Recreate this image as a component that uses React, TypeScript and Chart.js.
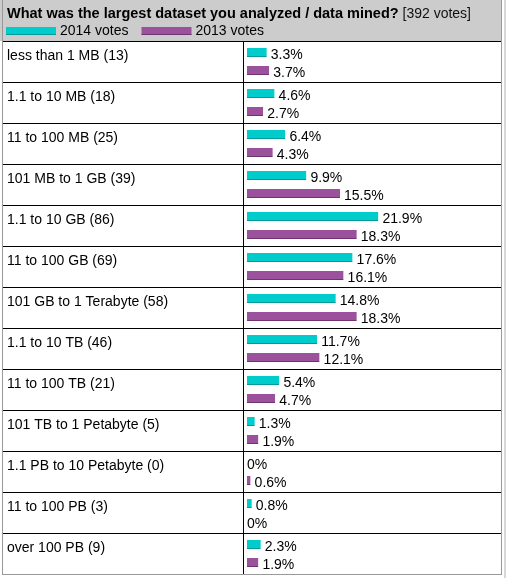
import React, { useEffect, useRef } from "react";
import { Chart, registerables } from "chart.js";

Chart.register(...registerables);

const TITLE = "What was the largest dataset you analyzed / data mined?";
const TOTAL_LABEL = "[392 votes]";
const SERIES_NAMES = ["2014 votes", "2013 votes"];
const CATEGORIES = [
  "less than 1 MB",
  "1.1 to 10 MB",
  "11 to 100 MB",
  "101 MB to 1 GB",
  "1.1 to 10 GB",
  "11 to 100 GB",
  "101 GB to 1 Terabyte",
  "1.1 to 10 TB",
  "11 to 100 TB",
  "101 TB to 1 Petabyte",
  "1.1 PB to 10 Petabyte",
  "11 to 100 PB",
  "over 100 PB",
];
const COUNTS = [13, 18, 25, 39, 86, 69, 58, 46, 21, 5, 0, 3, 9];
const VOTES_2014 = [3.3, 4.6, 6.4, 9.9, 21.9, 17.6, 14.8, 11.7, 5.4, 1.3, 0, 0.8, 2.3];
const VOTES_2013 = [3.7, 2.7, 4.3, 15.5, 18.3, 16.1, 18.3, 12.1, 4.7, 1.9, 0.6, 0, 1.9];
const COLORS = ["#00cccc", "#9c519c"];
const EDGE_COLORS = ["#009a9a", "#6f3470"];

const FONT_FAMILY = "'Liberation Sans', Arial, sans-serif";

const tablePlugin = {
  id: "tablePlugin",
  beforeDraw(chart: any) {
    const ctx = chart.ctx;
    const W = chart.width;
    const H = chart.height;
    const area = chart.chartArea;
    ctx.save();
    ctx.fillStyle = "#ffffff";
    ctx.fillRect(0, 0, W, H);
    // header background
    ctx.fillStyle = "#cccccc";
    ctx.fillRect(0, 0, 502, area.top);
    // title
    ctx.fillStyle = "#000000";
    ctx.textBaseline = "alphabetic";
    ctx.textAlign = "left";
    ctx.font = `bold 14.5px ${FONT_FAMILY}`;
    ctx.fillText(TITLE, 7, 18);
    const tw = ctx.measureText(TITLE).width;
    ctx.font = `14px ${FONT_FAMILY}`;
    const sp = ctx.measureText(" ").width;
    ctx.fillStyle = "#111111";
    ctx.fillText(TOTAL_LABEL, 7 + tw + sp, 18);
    // legend
    let x = 6;
    SERIES_NAMES.forEach((name, i) => {
      ctx.fillStyle = COLORS[i];
      ctx.fillRect(x, 27, 50, 8);
      ctx.fillStyle = EDGE_COLORS[i];
      ctx.fillRect(x, 34, 50, 1);
      x += 54;
      ctx.fillStyle = "#000000";
      ctx.font = `14px ${FONT_FAMILY}`;
      ctx.fillText(name, x, 35);
      x += ctx.measureText(name).width + 13;
    });
    ctx.restore();
  },
  afterDatasetsDraw(chart: any) {
    const ctx = chart.ctx;
    const yScale = chart.scales.y;
    const area = chart.chartArea;
    const n = CATEGORIES.length;
    const half = (yScale.bottom - yScale.top) / n / 2;
    ctx.save();
    // grid lines
    ctx.fillStyle = "#000000";
    for (let i = 0; i < n; i++) {
      const top = Math.round(yScale.getPixelForValue(i) - half);
      ctx.fillRect(2, top, 499, 1);
    }
    ctx.fillRect(243, area.top, 1, area.bottom - area.top);
    // outer border
    ctx.fillStyle = "#999999";
    ctx.fillRect(2, 0, 1, area.bottom + 1);
    ctx.fillRect(501, 0, 1, area.bottom + 1);
    ctx.fillRect(2, area.bottom, 500, 1);
    ctx.fillStyle = "#d8d8d8";
    ctx.fillRect(504, 0, 2, chart.height);
    // category labels
    ctx.fillStyle = "#000000";
    ctx.font = `14px ${FONT_FAMILY}`;
    ctx.textAlign = "left";
    ctx.textBaseline = "alphabetic";
    CATEGORIES.forEach((c, i) => {
      const top = yScale.getPixelForValue(i) - half;
      ctx.fillText(`${c} (${COUNTS[i]})`, 7, Math.round(top) + 19);
    });
    // value labels
    chart.data.datasets.forEach((ds: any, d: number) => {
      const meta = chart.getDatasetMeta(d);
      meta.data.forEach((el: any, i: number) => {
        const v = ds.data[i];
        const lx = v > 0 ? el.x + 4 : el.base;
        ctx.fillText(`${v}%`, lx, Math.round(el.y) + 6);
      });
    });
    ctx.restore();
  },
};

export default function App() {
  const ref = useRef<HTMLCanvasElement | null>(null);
  useEffect(() => {
    document.body.style.margin = "0";
    const canvas = ref.current;
    if (!canvas) return;
    const chart = new Chart(canvas, {
      type: "bar",
      data: {
        labels: CATEGORIES,
        datasets: [
          {
            label: SERIES_NAMES[0],
            data: VOTES_2014,
            backgroundColor: COLORS[0],
            borderColor: EDGE_COLORS[0],
            borderWidth: { top: 0, left: 0, right: 0, bottom: 1 },
            borderSkipped: false,
          },
          {
            label: SERIES_NAMES[1],
            data: VOTES_2013,
            backgroundColor: COLORS[1],
            borderColor: EDGE_COLORS[1],
            borderWidth: { top: 0, left: 0, right: 0, bottom: 1 },
            borderSkipped: false,
          },
        ],
      },
      options: {
        indexAxis: "y",
        responsive: false,
        maintainAspectRatio: false,
        animation: false,
        devicePixelRatio: 1,
        categoryPercentage: 36 / 41,
        barPercentage: 0.5,
        layout: { padding: { left: 247, right: 19, top: 41, bottom: 4 } },
        scales: {
          x: { display: false, min: 0, max: 40 },
          y: { display: false },
        },
        plugins: {
          legend: { display: false },
          tooltip: { enabled: false },
          title: { display: false },
        },
      } as any,
      plugins: [tablePlugin],
    });
    return () => chart.destroy();
  }, []);
  return (
    <canvas ref={ref} width={506} height={578} style={{ display: "block", width: 506, height: 578 }} />
  );
}
